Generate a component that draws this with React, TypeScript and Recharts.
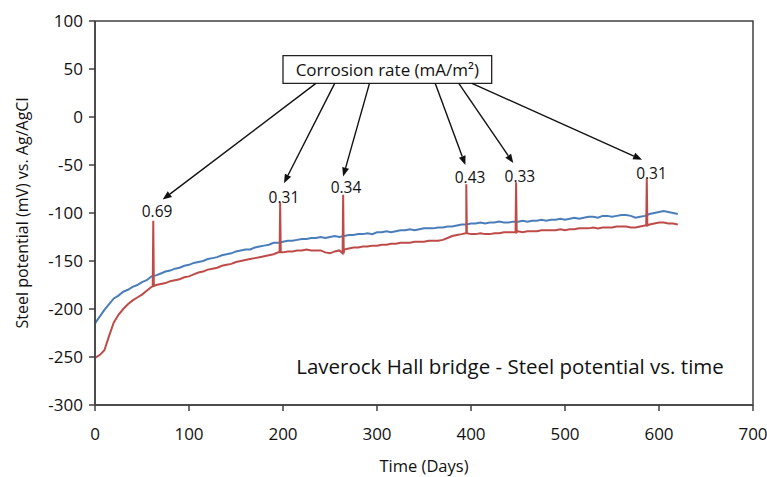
import React from "react";
import { LineChart, Line, XAxis, YAxis, ReferenceArea, ReferenceLine, ReferenceDot } from "recharts";

// days sampled every 5 days
const days = [
  0, 5, 10, 15, 20, 25, 30, 35, 40, 45, 50, 55, 60, 65, 70, 75, 80, 85, 90, 95,
  100, 105, 110, 115, 120, 125, 130, 135, 140, 145, 150, 155, 160, 165, 170, 175, 180, 185, 190, 195,
  200, 205, 210, 215, 220, 225, 230, 235, 240, 245, 250, 255, 260, 265, 270, 275, 280, 285, 290, 295,
  300, 305, 310, 315, 320, 325, 330, 335, 340, 345, 350, 355, 360, 365, 370, 375, 380, 385, 390, 395,
  400, 405, 410, 415, 420, 425, 430, 435, 440, 445, 450, 455, 460, 465, 470, 475, 480, 485, 490, 495,
  500, 505, 510, 515, 520, 525, 530, 535, 540, 545, 550, 555, 560, 565, 570, 575, 580, 585, 590, 595,
  600, 605, 610, 615, 620,
];

const blueMv = [
  -215, -208, -201, -195, -189, -186, -182, -180, -177, -175, -172, -170, -166, -165, -163, -161, -160, -158, -157, -155,
  -154, -152, -151, -150, -148, -147, -146, -144, -143, -142, -140, -139, -138, -138, -136, -135, -134, -133, -131, -131,
  -130, -129, -129, -128, -127, -127, -126, -126, -125, -126, -125, -124, -125, -124, -123, -123, -122, -122, -121, -122,
  -120, -120, -119, -120, -119, -118, -118, -117, -118, -117, -116, -116, -116, -115, -115, -114, -114, -113, -112, -112,
  -111, -111, -110, -111, -110, -110, -109, -110, -110, -109, -109, -108, -109, -108, -108, -107, -108, -107, -107, -106,
  -107, -106, -105, -106, -105, -104, -104, -105, -103, -103, -104, -103, -102, -102, -103, -105, -104, -103, -101, -100,
  -99, -98, -99, -100, -101,
];

const redMv = [
  -251, -248, -243, -228, -214, -206, -200, -195, -191, -188, -185, -181, -177, -175, -174, -173, -171, -170, -169, -167,
  -166, -164, -162, -161, -159, -158, -157, -155, -154, -153, -151, -150, -149, -148, -147, -146, -145, -144, -143, -141,
  -141, -140, -140, -139, -139, -138, -139, -139, -139, -141, -142, -140, -139, -138, -137, -136, -136, -135, -135, -134,
  -134, -133, -133, -132, -132, -131, -131, -131, -130, -130, -130, -129, -129, -129, -128, -126, -124, -123, -122, -121,
  -122, -122, -121, -122, -122, -121, -121, -120, -120, -120, -119, -120, -119, -119, -119, -118, -118, -118, -118, -117,
  -118, -117, -117, -116, -116, -116, -115, -116, -115, -115, -115, -114, -114, -114, -115, -115, -114, -113, -112, -111,
  -110, -110, -111, -111, -112,
];

// corrosion rate measurements (spikes on the red trace)
const spikeDays = [62, 197, 264, 395, 448, 587];
const spikePeak = [-108, -89, -81, -70, -68, -64];
const spikeBase = [-176, -141, -142, -121, -120, -113];
const rateText = ["0.69", "0.31", "0.34", "0.43", "0.33", "0.31"];
const rateLabelDay = [66, 201, 267, 399, 452, 592];
const rateLabelMv = [-98, -83, -72.5, -62, -61, -58];

// arrows from the box to each label
const arrowFromDay = [235, 255, 292, 362, 387, 401];
const arrowToDay = [72, 201, 264, 394, 445, 582];
const arrowToMv = [-86, -69, -62, -50, -48, -44.5];

const xTicks = [0, 100, 200, 300, 400, 500, 600, 700];
const yTicks = [-300, -250, -200, -150, -100, -50, 0, 50, 100];

const blueSeries = days.map((d, i) => ({ day: d, mv: blueMv[i] }));
const redSeries = [
  ...days.map((d, i) => ({ day: d, mv: redMv[i] })),
  ...spikeDays.flatMap((d, i) => [
    { day: d - 0.6, mv: spikeBase[i] },
    { day: d, mv: spikePeak[i] },
    { day: d + 0.6, mv: spikeBase[i] },
  ]),
].sort((a, b) => a.day - b.day);

const Arrow = (p: any) => {
  const { x1, y1, x2, y2 } = p;
  const a = Math.atan2(y2 - y1, x2 - x1);
  const L = 9;
  const W = 3.5;
  const bx = x2 - L * Math.cos(a);
  const by = y2 - L * Math.sin(a);
  const pts = `${x2},${y2} ${bx + W * Math.sin(a)},${by - W * Math.cos(a)} ${bx - W * Math.sin(a)},${by + W * Math.cos(a)}`;
  return (
    <g>
      <line x1={x1} y1={y1} x2={bx} y2={by} stroke="#111" strokeWidth={1.4} />
      <polygon points={pts} fill="#111" />
    </g>
  );
};

const textAt = (txt: string, size: number) => (p: any) => (
  <text x={p.cx} y={p.cy} textAnchor="middle" dominantBaseline="central" fontSize={size} fill="#111">
    {txt}
  </text>
);

export default function App() {
  const axisColor = "#404040";
  const tickStyle = { fontSize: 17, fill: "#111" };
  return (
    <div style={{ position: "absolute", left: 0, top: 0, background: "#fff", fontFamily: "'Open Sans', sans-serif" }}>
      <LineChart width={767} height={477} margin={{ top: 21, right: 14, bottom: 0, left: 0 }}>
        <XAxis
          type="number"
          dataKey="day"
          domain={[0, 700]}
          ticks={xTicks}
          height={72}
          stroke={axisColor}
          strokeWidth={1.5}
          tickSize={6}
          tickMargin={17}
          tick={tickStyle}
          label={{ value: "Time (Days)", position: "center", dy: 25, fontSize: 16.5, fill: "#111" }}
        />
        <YAxis
          type="number"
          domain={[-300, 100]}
          ticks={yTicks}
          width={95}
          stroke={axisColor}
          strokeWidth={1.5}
          tickSize={6}
          tickMargin={6}
          tick={tickStyle}
          label={{ value: "Steel potential (mV) vs. Ag/AgCl", angle: -90, position: "center", dx: -25, fontSize: 16, fill: "#111" }}
        />
        <ReferenceArea x1={0} x2={700} y1={-300} y2={100} fill="none" stroke={axisColor} strokeWidth={1.5} />
        <Line data={blueSeries} dataKey="mv" stroke="#4a7ebb" strokeWidth={2} dot={false} isAnimationActive={false} />
        <Line data={redSeries} dataKey="mv" stroke="#be4b48" strokeWidth={2} dot={false} isAnimationActive={false} />
        {arrowToDay.map((d, i) => (
          <ReferenceLine
            key={"a" + i}
            segment={[
              { x: arrowFromDay[i], y: 35 },
              { x: d, y: arrowToMv[i] },
            ]}
            shape={Arrow}
          />
        ))}
        <ReferenceArea
          x1={200}
          x2={422}
          y1={35}
          y2={64}
          fill="#fff"
          fillOpacity={1}
          stroke="#222"
          strokeWidth={1.3}
          label={{ value: "Corrosion rate (mA/m²)", position: "center", fontSize: 17, fill: "#111" }}
        />
        {rateText.map((t, i) => (
          <ReferenceDot key={"r" + i} x={rateLabelDay[i]} y={rateLabelMv[i]} shape={textAt(t, 15.5)} />
        ))}
        <ReferenceDot x={441.5} y={-259} shape={textAt("Laverock Hall bridge - Steel potential vs. time", 20.5)} />
      </LineChart>
    </div>
  );
}
